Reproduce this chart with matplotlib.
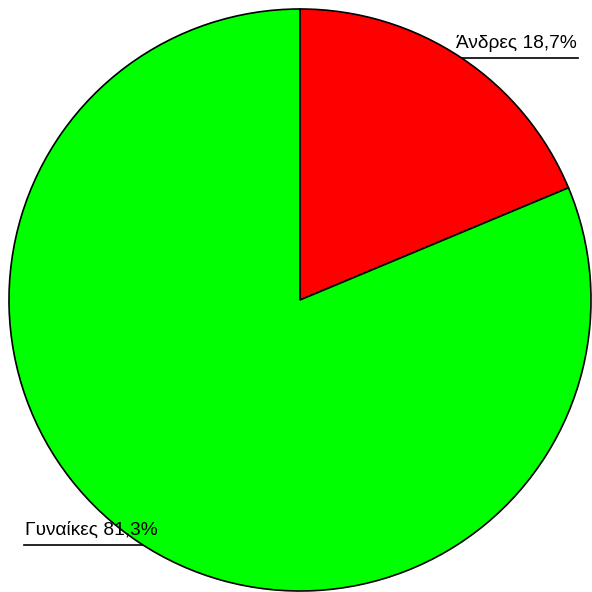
import matplotlib
matplotlib.use("Agg")
import matplotlib.pyplot as plt
import numpy as np

labels = ["Άνδρες", "Γυναίκες"]
values = [18.7, 81.3]
colors = ["#ff0000", "#00ff00"]

W = H = 592
fig = plt.figure(figsize=(W / 100, H / 100), dpi=100)
ax = fig.add_axes([0, 0, 1, 1])
ax.set_xlim(0, W)
ax.set_ylim(0, H)
ax.set_aspect("equal")
ax.axis("off")

cx, cy, r = 300, H - 300, 291
ax.pie(values, colors=colors, startangle=90, counterclock=False,
       center=(cx, cy), radius=r, frame=True,
       wedgeprops=dict(edgecolor="black", linewidth=1.2))
ax.set_xlim(0, W)
ax.set_ylim(0, H)
ax.axis("off")

font = dict(family=["Liberation Sans", "DejaVu Sans"], fontsize=13.8, color="black")

def fmt(v):
    return f"{v:.1f}".replace(".", ",") + "%"

# label 1 (right top)
y1 = H - 58
ax.plot([cx + np.sqrt(r**2 - (cy - y1)**2), 578], [y1, y1], color="black", lw=1.2, zorder=0)
ax.text(577, y1 + 6, f"{labels[0]} {fmt(values[0])}", ha="right", va="bottom", zorder=5, **font)

# label 2 (left bottom)
y2 = H - 545
ax.plot([24, cx - np.sqrt(r**2 - (cy - y2)**2)], [y2, y2], color="black", lw=1.2, zorder=0)
ax.text(25, y2 + 6, f"{labels[1]} {fmt(values[1])}", ha="left", va="bottom", zorder=5, **font)

fig.savefig("out.png", dpi=100, facecolor="white")
